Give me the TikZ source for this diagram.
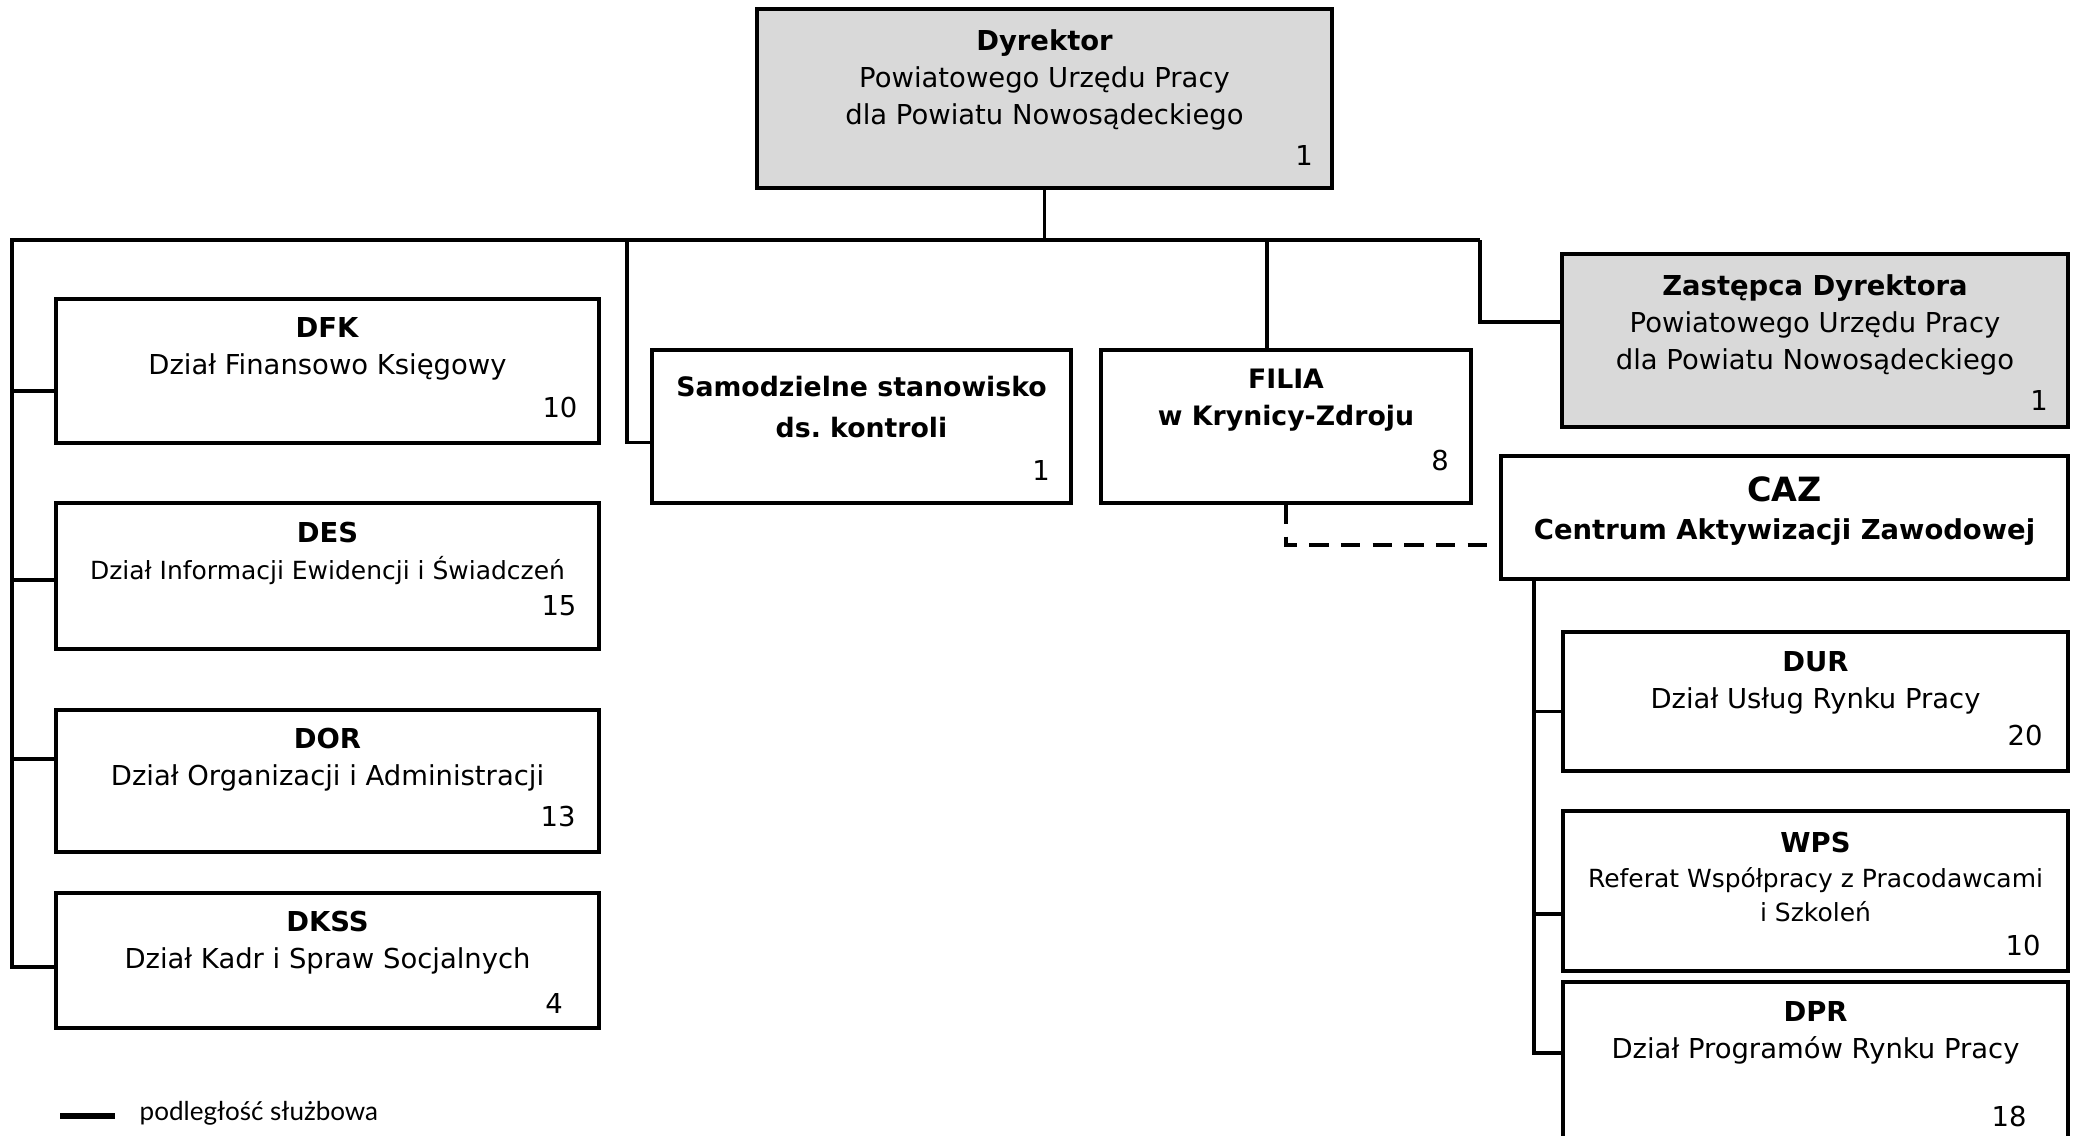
\documentclass[tikz,border=0pt]{standalone}
\usepackage{fontspec}
\setmainfont{DejaVu Sans}
\newfontfamily\legendfont{Lato}
\usepackage{tikz}

\tikzset{
  unit/.style={draw, line width=1.1pt, fill=white, inner sep=0pt},
  head/.style={unit, fill=gray!30},
  txt/.style={align=center, inner sep=0pt, font=\fontsize{7.8}{10.5}\selectfont},
  num/.style={inner sep=0pt, font=\fontsize{7.8}{10.5}\selectfont},
  link/.style={line width=1.1pt},
}

\begin{document}
\begin{tikzpicture}[x=0.01cm, y=-0.01cm]
        % Size of the page
        \useasboundingbox (0,0) rectangle (2078,1135);
        \clip (0,0) rectangle (2078,1135);

        % Draw the boxes
        \node[head, minimum width=5.75cm, minimum height=1.79cm] (dyr) at (1044.5,98.5) {};
        \node[unit, minimum width=5.43cm, minimum height=1.44cm] (dfk) at (327.5,371) {};
        \node[unit, minimum width=5.43cm, minimum height=1.46cm] (des) at (327.5,576) {};
        \node[unit, minimum width=5.43cm, minimum height=1.42cm] (dor) at (327.5,781) {};
        \node[unit, minimum width=5.43cm, minimum height=1.35cm] (dkss) at (327.5,960.5) {};
        \node[unit, minimum width=4.19cm, minimum height=1.53cm] (sam) at (861.5,426.5) {};
        \node[unit, minimum width=3.70cm, minimum height=1.53cm] (filia) at (1286,426.5) {};
        \node[head, minimum width=5.06cm, minimum height=1.73cm] (zas) at (1815,340.5) {};
        \node[unit, minimum width=5.67cm, minimum height=1.23cm] (caz) at (1784.5,517.5) {};
        \node[unit, minimum width=5.05cm, minimum height=1.39cm] (dur) at (1815.5,701.5) {};
        \node[unit, minimum width=5.05cm, minimum height=1.60cm] (wps) at (1815.5,891) {};
        \node[unit, minimum width=5.05cm, minimum height=1.58cm] (dpr) at (1815.5,1061) {};

        % Label the boxes
        \node[txt] (t-dyr) at (1044.5,80) {\textbf{Dyrektor}\\Powiatowego Urzędu Pracy\\dla Powiatu Nowosądeckiego};
        \node[txt] (t-dfk) at (327.5,349) {\textbf{DFK}\\Dział Finansowo Księgowy};
        \node[txt] (t-des) at (327.5,553) {\textbf{DES}\\{\fontsize{7.1}{10.5}\selectfont Dział Informacji Ewidencji i Świadczeń}};
        \node[txt] (t-dor) at (327.5,760) {\textbf{DOR}\\Dział Organizacji i Administracji};
        \node[txt] (t-dkss) at (327.5,943) {\textbf{DKSS}\\Dział Kadr i Spraw Socjalnych};
        \node[txt, font=\fontsize{7.6}{11.9}\selectfont\bfseries] (t-sam) at (861.5,407) {Samodzielne stanowisko\\ds.\ kontroli};
        \node[txt, font=\fontsize{7.6}{10.5}\selectfont\bfseries] (t-filia) at (1286,400) {FILIA\\w Krynicy-Zdroju};
        \node[txt] (t-zas) at (1815,325) {\textbf{Zastępca Dyrektora}\\Powiatowego Urzędu Pracy\\dla Powiatu Nowosądeckiego};
        \node[txt, font=\fontsize{7.8}{11}\selectfont\bfseries] (t-caz) at (1784.5,511) {{\fontsize{9.5}{11}\selectfont CAZ}\\Centrum Aktywizacji Zawodowej};
        \node[txt] (t-dur) at (1815.5,683) {\textbf{DUR}\\Dział Usług Rynku Pracy};
        \node[txt, font=\fontsize{7.1}{9.9}\selectfont] (t-wps) at (1815.5,877) {{\fontsize{7.8}{9.9}\selectfont\bfseries WPS}\\Referat Współpracy z Pracodawcami\\i Szkoleń};
        \node[txt] (t-dpr) at (1815.5,1033) {\textbf{DPR}\\Dział Programów Rynku Pracy};

        % Staff numbers
        \node[num] (n-dyr) at (1304,155) {1};
        \node[num] (n-dfk) at (560,407) {10};
        \node[num] (n-des) at (559,606) {15};
        \node[num] (n-dor) at (558,816) {13};
        \node[num] (n-dkss) at (554,1003) {4};
        \node[num] (n-sam) at (1041,470) {1};
        \node[num] (n-filia) at (1440,460) {8};
        \node[num] (n-zas) at (2039,400) {1};
        \node[num] (n-dur) at (2025,735) {20};
        \node[num] (n-wps) at (2023,945) {10};
        \node[num] (n-dpr) at (2009,1116) {18};

        % Main line under the director
        \coordinate (bus-l) at (12,240);
        \coordinate (bus-r) at (1480,240);
        \draw[link] (dyr.south) -- (dyr.south |- bus-l);
        \draw[link] (bus-r) -- (bus-l) |- ([yshift=-0.65mm]dkss.west);
        \foreach \b/\s in {dfk/-2, des/-0.4, dor/2.2} {
          \coordinate (p) at ([yshift=\s mm]\b.west);
          \draw[link] (bus-l |- p) -- (p);
        }
        \coordinate (bus-s) at (627,240);
        \draw[link] (bus-s) |- ([yshift=-1.6mm]sam.west);
        \coordinate (f-top) at ([xshift=-1.9mm]filia.north);
        \draw[link] (f-top |- bus-l) -- (f-top);
        \draw[link] (bus-r) |- ([yshift=1.85mm]zas.west);

        % Dashed link from the branch office
        \draw[link, dash pattern=on 5.5pt off 3.5pt] (filia.south) |- ([yshift=-2.75mm]caz.west);

        % Line under CAZ
        \coordinate (caz-bus) at (1534,579);
        \draw[link] (caz-bus) |- ([yshift=0.8mm]dpr.west);
        \foreach \b/\s in {dur/-1, wps/-2.3} {
          \coordinate (p) at ([yshift=\s mm]\b.west);
          \draw[link] (caz-bus |- p) -- (p);
        }

        % Legend
        \coordinate (leg-a) at (60,1116);
        \coordinate (leg-b) at (115,1116);
        \draw[line width=1.8pt] (leg-a) -- (leg-b);
        \node[anchor=west, inner sep=0pt, font=\legendfont\fontsize{7.4}{8}\selectfont] (leg) at (139,1113) {podległość służbowa};
    \end{tikzpicture}
\end{document}
